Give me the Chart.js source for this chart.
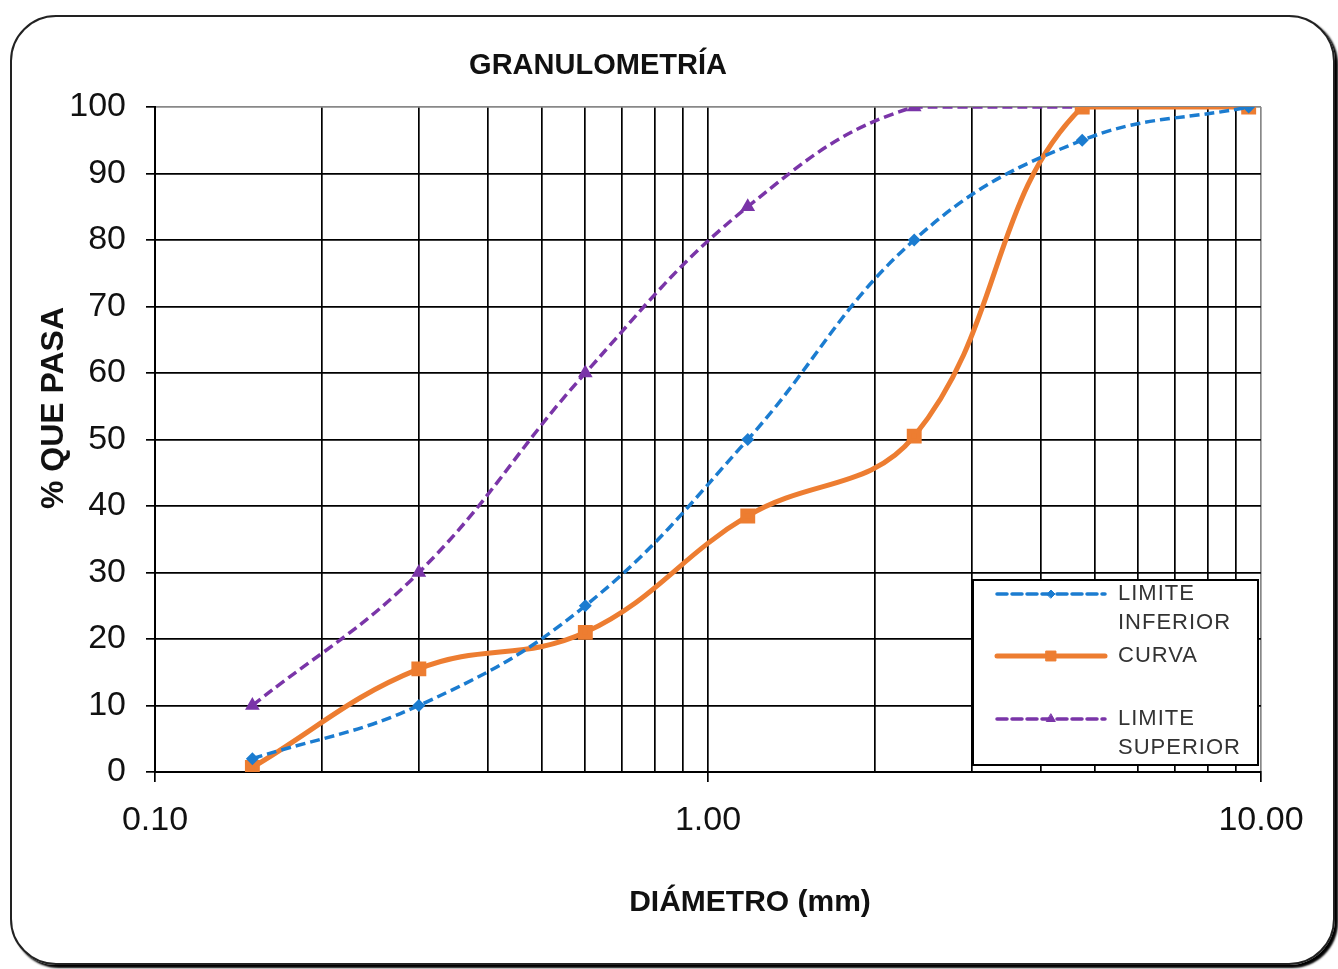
<!DOCTYPE html>
<html>
<head>
<meta charset="utf-8">
<script src="https://cdn.jsdelivr.net/npm/chart.js@4.4.1/dist/chart.umd.min.js"></script>
<style>
html, body { margin: 0; padding: 0; background: #fff; }
#frame { position: absolute; left: 10px; top: 15px; width: 1321px; height: 946px; border: 2px solid #222; border-radius: 46px; box-shadow: 3px 3px 2px #000; }
#chartGranulometria { position: absolute; left: 0; top: 0; }
</style>
</head>
<body>
<div id="frame"></div>
<canvas id="chartGranulometria" width="1338" height="969"></canvas>
<script>
// abertura de tamices (mm) y % que pasa
const tamices = [0.15, 0.3, 0.6, 1.18, 2.36, 4.75, 9.5];
const limiteInferior = [2, 10, 25, 50, 80, 95, 100];
const curva = [0.7, 15.5, 21, 38.5, 50.5, 100, 100];
const limiteSuperior = [10, 30, 60, 85, 100, 100, 100];

// lineas de la grilla logaritmica y etiquetas que se muestran
const xGrid = [0.1, 0.2, 0.3, 0.4, 0.5, 0.6, 0.7, 0.8, 0.9, 1, 2, 3, 4, 5, 6, 7, 8, 9, 10];
const xLabels = [0.1, 1, 10];

const FONT = '"Liberation Sans", Arial, sans-serif';

function puntos(ys) {
    return tamices.map((x, i) => ({ x: x, y: ys[i] }));
}

const serieInferior = {
    label: 'LIMITE INFERIOR',
    data: puntos(limiteInferior),
    borderColor: '#1B7CD0',
    backgroundColor: '#1B7CD0',
    borderWidth: 3.5,
    borderDash: [10, 5],
    pointStyle: 'rectRot',
    pointRadius: 4,
    tension: 0.4
};
const serieCurva = {
    label: 'CURVA',
    data: puntos(curva),
    borderColor: '#ED7D31',
    backgroundColor: '#ED7D31',
    borderWidth: 5,
    pointStyle: 'rect',
    pointRadius: 7,
    tension: 0.4
};
const serieSuperior = {
    label: 'LIMITE SUPERIOR',
    data: puntos(limiteSuperior),
    borderColor: '#7A35A8',
    backgroundColor: '#7A35A8',
    borderWidth: 3.5,
    borderDash: [10, 5],
    pointStyle: 'triangle',
    pointRadius: 5,
    tension: 0.4
};

// titulos y leyenda dibujados a mano
const textos = {
    id: 'textos',
    afterDraw(chart) {
        const ctx = chart.ctx;
        ctx.save();
        ctx.fillStyle = '#111';
        ctx.textAlign = 'center';
        ctx.textBaseline = 'middle';
        ctx.font = 'bold 29px ' + FONT;
        ctx.fillText('GRANULOMETRÍA', 598, 66);
        ctx.font = 'bold 30px ' + FONT;
        ctx.fillText('DIÁMETRO (mm)', 750, 903);
        ctx.save();
        ctx.translate(54, 408);
        ctx.rotate(-Math.PI / 2);
        ctx.font = 'bold 32px ' + FONT;
        ctx.fillText('% QUE PASA', 0, 0);
        ctx.restore();

        // leyenda
        ctx.fillStyle = '#fff';
        ctx.fillRect(973, 580, 285, 185);
        ctx.strokeStyle = '#000';
        ctx.lineWidth = 2;
        ctx.strokeRect(973, 580, 285, 185);

        const items = [
            { ds: serieInferior, y: 594, lines: ['LIMITE', 'INFERIOR'] },
            { ds: serieCurva, y: 656, lines: ['CURVA'] },
            { ds: serieSuperior, y: 719, lines: ['LIMITE', 'SUPERIOR'] }
        ];
        items.forEach(it => {
            ctx.strokeStyle = it.ds.borderColor;
            ctx.fillStyle = it.ds.backgroundColor;
            ctx.lineWidth = it.ds.borderWidth;
            ctx.lineCap = 'round';
            ctx.setLineDash(it.ds.borderDash || []);
            ctx.beginPath();
            ctx.moveTo(997, it.y);
            ctx.lineTo(1105, it.y);
            ctx.stroke();
            ctx.setLineDash([]);
            ctx.lineWidth = 1;
            Chart.helpers.drawPoint(ctx, { pointStyle: it.ds.pointStyle, radius: it.ds.pointRadius, rotation: 0, borderWidth: 1 }, 1051, it.y);
            ctx.fillStyle = '#333';
            ctx.textAlign = 'left';
            ctx.font = '22px ' + FONT;
            ctx.letterSpacing = '1px';
            it.lines.forEach((t, k) => ctx.fillText(t, 1118, it.y + k * 29));
            ctx.letterSpacing = '0px';
        });
        ctx.restore();
    }
};

const ctx = document.getElementById('chartGranulometria').getContext('2d');
const chart = new Chart(ctx, {
    type: 'line',
    data: {
        datasets: [serieInferior, serieCurva, serieSuperior]
    },
    options: {
        responsive: false,
        animation: false,
        layout: { padding: { top: 107, right: 77, left: 0, bottom: 0 } },
        plugins: {
            legend: { display: false },
            tooltip: { enabled: false }
        },
        scales: {
            x: {
                type: 'logarithmic',
                min: 0.1,
                max: 10,
                afterBuildTicks: scale => {
                    scale.ticks = xGrid.map(v => ({ value: v, major: xLabels.includes(v) }));
                },
                afterFit: scale => { scale.height = 197; },
                ticks: {
                    autoSkip: false,
                    maxRotation: 0,
                    padding: 18,
                    color: '#111',
                    font: { family: FONT, size: 34 },
                    callback: v => xLabels.includes(v) ? v.toFixed(2) : ''
                },
                grid: {
                    color: c => (c.tick && c.tick.value === 10) ? '#888' : '#000',
                    lineWidth: 1.7,
                    tickLength: 10,
                    tickColor: c => (c.tick && xLabels.includes(c.tick.value)) ? '#000' : 'rgba(0,0,0,0)'
                },
                border: { color: '#000', width: 2 }
            },
            y: {
                min: 0,
                max: 100,
                afterFit: scale => { scale.width = 155; },
                ticks: {
                    stepSize: 10,
                    padding: 20,
                    color: '#111',
                    font: { family: FONT, size: 34 }
                },
                grid: {
                    color: c => (c.tick && c.tick.value === 100) ? '#888' : '#000',
                    lineWidth: 1.7,
                    tickLength: 9,
                    tickColor: '#000'
                },
                border: { color: '#000', width: 2 }
            }
        }
    },
    plugins: [textos]
});
</script>
</body>
</html>
